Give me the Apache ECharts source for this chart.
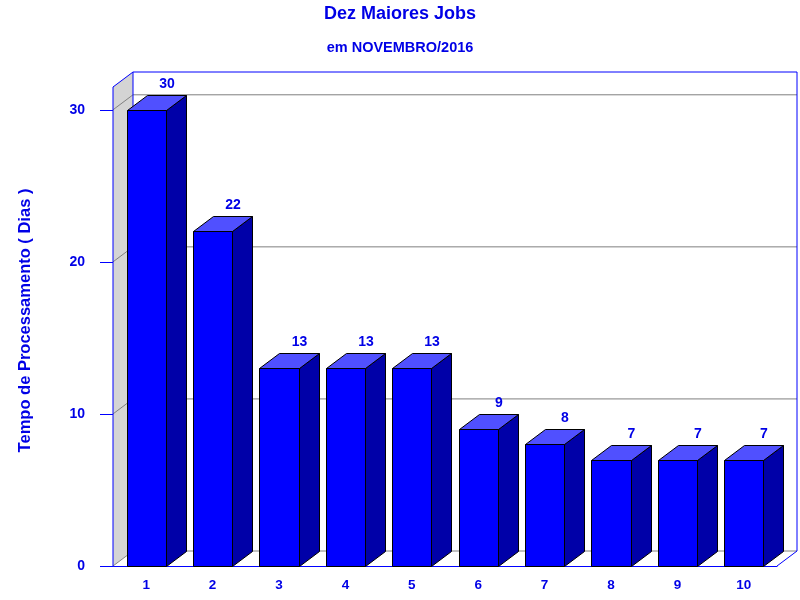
<!DOCTYPE html>
<html><head><meta charset="utf-8">
<script src="https://cdn.jsdelivr.net/npm/echarts@6/dist/echarts.min.js"></script>
<style>html,body{margin:0;padding:0;background:#fff}#c{width:800px;height:600px}</style>
</head><body><div id="c"></div>
<script>
var categories = ['1','2','3','4','5','6','7','8','9','10'];
var values = [30,22,13,13,13,9,8,7,7,7];
var yTicks = [0,10,20,30];
var titleText = 'Dez Maiores Jobs';
var subtitleText = 'em NOVEMBRO/2016';
var yName = 'Tempo de Processamento ( Dias )';

var DX = 20, DY = -15;
var FONT = 'Arial, "Liberation Sans", sans-serif';
var BLUE = '#0000ff';
var TXT = '#0000e6';

var chart = echarts.init(document.getElementById('c'), null, {renderer:'canvas'});

function renderWalls(params, api){
  var cs = params.coordSys;
  var x0 = cs.x, x1 = cs.x + cs.width, yT = cs.y, yB = cs.y + cs.height;
  var ch = [];
  ch.push({type:'polygon', shape:{points:[[x0,yT],[x0+DX,yT+DY],[x0+DX,yB+DY],[x0,yB]]},
    style:{fill:'#d4d4d4', stroke:null}});
  ch.push({type:'rect', shape:{x:x0+DX, y:yT+DY, width:x1-x0, height:yB-yT},
    style:{fill:'#ffffff', stroke:null}});
  ch.push({type:'polygon', shape:{points:[[x0,yB],[x1,yB],[x1+DX,yB+DY],[x0+DX,yB+DY]]},
    style:{fill:'#ffffff', stroke:null}});
  yTicks.forEach(function(v){
    var y = api.coord([0, v])[1];
    ch.push({type:'polyline', shape:{points:[[x0,y],[x0+DX,y+DY],[x1+DX,y+DY]]},
      style:{fill:null, stroke:'#808080', lineWidth:1}});
  });
  ch.push({type:'polyline', shape:{points:[[x0,yB],[x0,yT],[x0+DX,yT+DY],[x1+DX,yT+DY],[x1+DX,yB+DY],[x1,yB]]},
    style:{fill:null, stroke:BLUE, lineWidth:1}});
  ch.push({type:'line', shape:{x1:x0+DX, y1:yT+DY, x2:x0+DX, y2:yB+DY},
    style:{stroke:BLUE, lineWidth:1}});
  return {type:'group', children:ch};
}

function renderBar(params, api){
  var idx = api.value(0), v = api.value(1);
  var top = api.coord([idx, v]);
  var base = api.coord([idx, 0]);
  var w = api.size([1,0])[0] * 0.59;
  var xl = Math.round(top[0] - w/2) + 0.5, xr = Math.round(top[0] + w/2) + 0.5;
  var yt = Math.round(top[1]) + 0.5, yb = Math.round(base[1]) + 0.5;
  var ch = [];
  ch.push({type:'polygon', shape:{points:[[xr,yt],[xr+DX,yt+DY],[xr+DX,yb+DY],[xr,yb]]},
    style:{fill:'#0000a8', stroke:'#000', lineWidth:1}});
  ch.push({type:'polygon', shape:{points:[[xl,yt],[xl+DX,yt+DY],[xr+DX,yt+DY],[xr,yt]]},
    style:{fill:'#5050ff', stroke:'#000', lineWidth:1}});
  ch.push({type:'rect', shape:{x:xl, y:yt, width:xr-xl, height:yb-yt},
    style:{fill:'#0000ff', stroke:'#000', lineWidth:1}});
  ch.push({type:'text', x:(xl+xr)/2 + DX, y:yt + DY - 4,
    style:{text:String(v), fill:TXT, font:'bold 14px ' + FONT, textAlign:'center', textVerticalAlign:'bottom'}});
  return {type:'group', children:ch};
}

chart.setOption({
  animation:false,
  backgroundColor:'#ffffff',
  title:[
    {text:titleText, left:'center', top:0, textStyle:{color:TXT, fontFamily:FONT, fontWeight:'bold', fontSize:18}},
    {text:subtitleText, left:'center', top:35, textStyle:{color:TXT, fontFamily:FONT, fontWeight:'bold', fontSize:14.5}}
  ],
  grid:{left:113, right:23, top:87, bottom:34},
  xAxis:{type:'category', data:categories, boundaryGap:true,
    axisLine:{lineStyle:{color:BLUE, width:1}}, axisTick:{show:false},
    axisLabel:{color:TXT, fontFamily:FONT, fontWeight:'bold', fontSize:13.5, margin:12}},
  yAxis:{type:'value', min:0, max:31.5, interval:10,
    name:yName, nameLocation:'middle', nameGap:79,
    nameTextStyle:{color:TXT, fontFamily:FONT, fontWeight:'bold', fontSize:16.5, padding:[0,0,0,12]},
    axisLine:{show:true, lineStyle:{color:BLUE, width:1}},
    axisTick:{show:true, length:13, lineStyle:{color:BLUE}, customValues:yTicks},
    axisLabel:{color:TXT, fontFamily:FONT, fontWeight:'bold', fontSize:14, margin:28, customValues:yTicks},
    splitLine:{show:false}},
  series:[
    {type:'custom', renderItem:renderWalls, data:[[0]], z:1, silent:true},
    {type:'custom', renderItem:renderBar, data:values.map(function(v,i){return [i,v];}),
     encode:{x:0, y:1}, z:3}
  ]
});
</script></body></html>
